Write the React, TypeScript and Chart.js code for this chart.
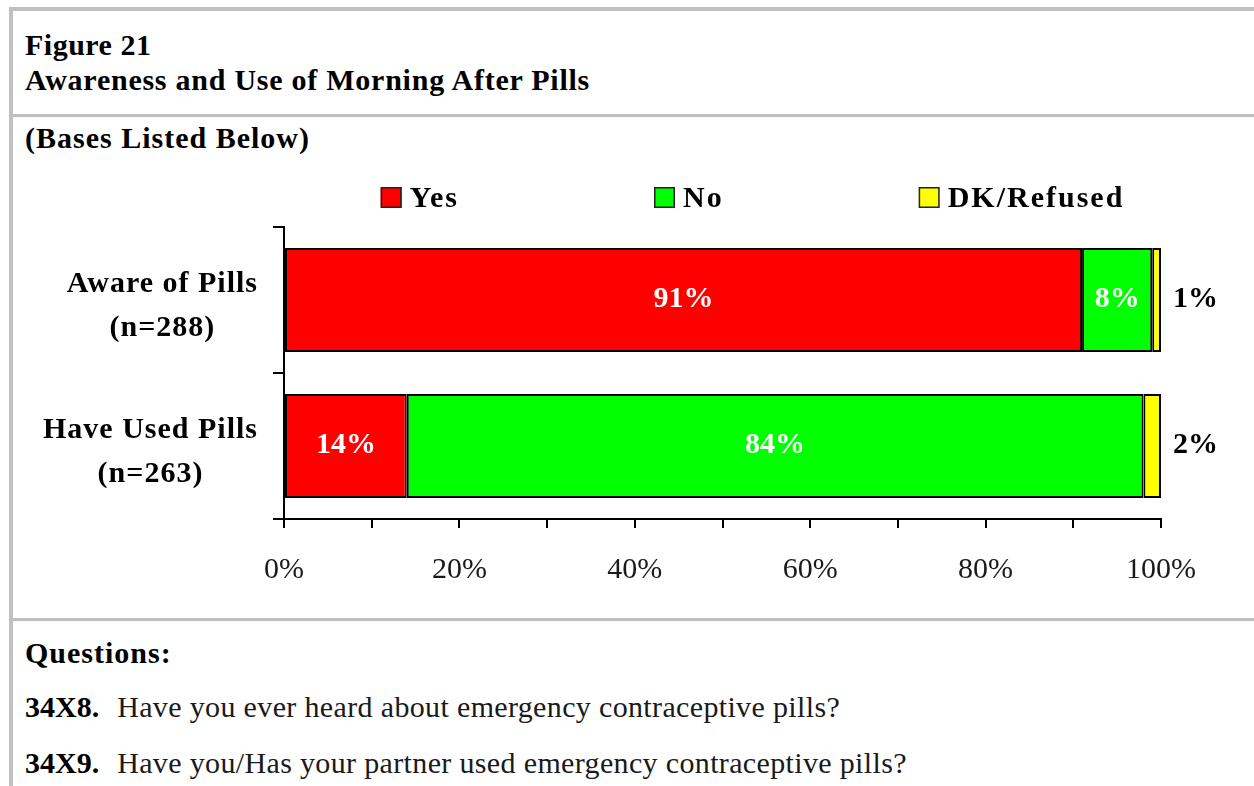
import React, { useEffect, useRef } from 'react';
import { Chart, registerables } from 'chart.js';

Chart.register(...registerables);

const FONT = '"Liberation Serif", "Times New Roman", serif';

const categories: string[][] = [
  ['Aware of Pills', '(n=288)'],
  ['Have Used Pills', '(n=263)'],
];
const seriesNames = ['Yes', 'No', 'DK/Refused'];
const yesValues = [91, 14];
const noValues = [8, 84];
const dkValues = [1, 2];
const seriesColors = ['#FF0000', '#00FF00', '#FFFF00'];
const xTickLabels = [0, 20, 40, 60, 80, 100];

const yLabelPlugin = {
  id: 'yLabels',
  afterDraw(chart: any) {
    const ctx = chart.ctx as CanvasRenderingContext2D;
    const yScale = chart.scales.y;
    const area = chart.chartArea;
    ctx.save();
    ctx.font = `bold 30px ${FONT}`;
    (ctx as any).letterSpacing = '1px';
    ctx.fillStyle = '#000';
    ctx.textBaseline = 'alphabetic';
    ctx.textAlign = 'center';
    const right = area.left - 26;
    (chart.data.labels as string[][]).forEach((lines, i) => {
      const cy = yScale.getPixelForValue(i);
      const maxW = Math.max(...lines.map((l) => ctx.measureText(l).width));
      const cx = right - maxW / 2;
      ctx.fillText(lines[0], cx, cy - 8);
      ctx.fillText(lines[1], cx, cy + 36);
    });
    ctx.restore();
  },
};

const dataLabelPlugin = {
  id: 'dataLabels',
  afterDatasetsDraw(chart: any) {
    const ctx = chart.ctx as CanvasRenderingContext2D;
    ctx.save();
    ctx.font = `bold 30px ${FONT}`;
    ctx.textBaseline = 'alphabetic';
    chart.data.datasets.forEach((ds: any, di: number) => {
      const meta = chart.getDatasetMeta(di);
      meta.data.forEach((bar: any, i: number) => {
        const v = ds.data[i] as number;
        const { x, y, base } = bar.getProps(['x', 'y', 'base'], true);
        const text = v + '%';
        if (v < 3) {
          ctx.fillStyle = '#000';
          ctx.textAlign = 'left';
          ctx.fillText(text, Math.max(x, base) + 12, y + 7);
        } else {
          ctx.fillStyle = '#fff';
          ctx.textAlign = 'center';
          ctx.fillText(text, (x + base) / 2, y + 7);
        }
      });
    });
    ctx.restore();
  },
};

const legendPlugin = {
  id: 'customLegend',
  afterDraw(chart: any) {
    const ctx = chart.ctx as CanvasRenderingContext2D;
    const area = chart.chartArea;
    const box = 21;
    const boxGap = 8;
    const itemGap = 195;
    ctx.save();
    ctx.font = `bold 30px ${FONT}`;
    (ctx as any).letterSpacing = '2px';
    const items = chart.data.datasets.map((ds: any) => ({
      label: ds.label as string,
      color: ds.backgroundColor as string,
      w: ctx.measureText(ds.label).width,
    }));
    const total =
      items.reduce((s: number, it: any) => s + box + boxGap + it.w, 0) + itemGap * (items.length - 1);
    const center = (area.left + area.right) / 2 + 30;
    let x = center - total / 2;
    const boxTop = area.top - 40;
    items.forEach((it: any) => {
      ctx.fillStyle = it.color;
      ctx.fillRect(x, boxTop, box, box);
      ctx.strokeStyle = '#222';
      ctx.lineWidth = 1.5;
      ctx.strokeRect(x + 0.75, boxTop + 0.75, box - 1.5, box - 1.5);
      ctx.fillStyle = '#000';
      ctx.textAlign = 'left';
      ctx.textBaseline = 'alphabetic';
      ctx.fillText(it.label, x + box + boxGap, boxTop + 20);
      x += box + boxGap + it.w + itemGap;
    });
    ctx.restore();
  },
};

function BarChart() {
  const ref = useRef<HTMLCanvasElement | null>(null);
  useEffect(() => {
    if (!ref.current) return;
    const values = [yesValues, noValues, dkValues];
    const chart = new Chart(ref.current, {
      type: 'bar',
      data: {
        labels: categories as any,
        datasets: seriesNames.map((name, i) => ({
          label: name,
          data: values[i],
          backgroundColor: seriesColors[i],
          borderColor: '#000',
          borderWidth: 2,
          borderSkipped: false,
          barPercentage: 0.712,
          categoryPercentage: 1,
        })),
      },
      options: {
        indexAxis: 'y',
        responsive: false,
        animation: false,
        devicePixelRatio: 1,
        layout: { padding: { top: 67, right: 93, left: 0, bottom: 0 } },
        plugins: {
          legend: { display: false },
          tooltip: { enabled: false },
        },
        scales: {
          x: {
            stacked: true,
            min: 0,
            max: 100,
            border: { display: true, color: '#000', width: 2 },
            grid: {
              drawOnChartArea: false,
              drawTicks: true,
              tickLength: 9,
              color: '#000',
              lineWidth: 2,
            },
            ticks: {
              stepSize: 10,
              padding: 24,
              color: '#1a1a1a',
              font: { family: FONT, size: 30 },
              maxRotation: 0,
              autoSkip: false,
              callback: (v: any) => (xTickLabels.includes(Number(v)) ? `${v}%` : ''),
            },
            afterFit: (scale: any) => {
              scale.height = 96;
            },
          },
          y: {
            stacked: true,
            border: { display: true, color: '#000', width: 2 },
            grid: {
              drawOnChartArea: false,
              drawTicks: true,
              tickLength: 11,
              color: '#000',
              lineWidth: 2,
              offset: true,
            },
            ticks: { display: false },
            afterFit: (scale: any) => {
              scale.width = 284;
            },
          },
        },
      } as any,
      plugins: [dataLabelPlugin, yLabelPlugin, legendPlugin],
    });
    return () => chart.destroy();
  }, []);
  return (
    <canvas
      ref={ref}
      width={1254}
      height={455}
      style={{ position: 'absolute', left: 0, top: 160, width: 1254, height: 455 }}
    />
  );
}

const gray = '#c0c0c0';

export default function App() {
  const text = (top: number, content: React.ReactNode, spacing = 0) => (
    <div
      style={{
        position: 'absolute',
        left: 25,
        top,
        fontSize: 30,
        lineHeight: '30px',
        fontWeight: 'bold',
        whiteSpace: 'nowrap',
        color: '#000',
        letterSpacing: spacing,
      }}
    >
      {content}
    </div>
  );
  return (
    <div
      style={{
        position: 'fixed',
        left: 0,
        top: 0,
        width: 1254,
        height: 786,
        background: '#fff',
        overflow: 'hidden',
        fontFamily: FONT,
      }}
    >
      <div style={{ position: 'absolute', left: 9, top: 7, right: 0, height: 4, background: gray }} />
      <div style={{ position: 'absolute', left: 9, top: 7, width: 4, bottom: 0, background: gray }} />
      <div style={{ position: 'absolute', left: 13, top: 114, right: 0, height: 3, background: gray }} />
      <div style={{ position: 'absolute', left: 13, top: 618, right: 0, height: 3, background: gray }} />
      {text(30, 'Figure 21', 0.5)}
      {text(65, 'Awareness and Use of Morning After Pills', 0.75)}
      {text(123, '(Bases Listed Below)', 1)}
      <BarChart />
      {text(638, 'Questions:', 1)}
      {text(
        692,
        <>
          <b>34X8.</b>
          <span style={{ fontWeight: 'normal', marginLeft: 18, color: '#1a1a1a', letterSpacing: 0.35 }}>
            Have you ever heard about emergency contraceptive pills?
          </span>
        </>
      )}
      {text(
        748,
        <>
          <b>34X9.</b>
          <span style={{ fontWeight: 'normal', marginLeft: 18, color: '#1a1a1a', letterSpacing: 0.35 }}>
            Have you/Has your partner used emergency contraceptive pills?
          </span>
        </>
      )}
    </div>
  );
}
